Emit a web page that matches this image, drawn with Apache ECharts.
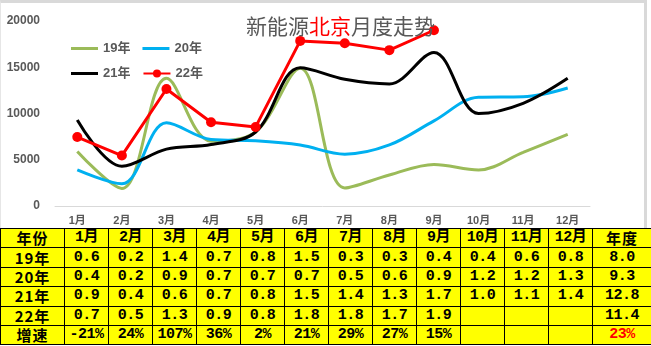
<!DOCTYPE html>
<html><head><meta charset="utf-8">
<script src="https://cdn.jsdelivr.net/npm/echarts@6/dist/echarts.min.js"></script>
<style>
html,body{margin:0;padding:0;background:#fff;width:651px;height:346px;overflow:hidden;}
#frame{position:absolute;left:0;top:0;width:643px;height:225px;border-top:3px solid #d9d9d9;border-right:3px solid #d9d9d9;border-left:1px solid #e6e6e6;}
#chart{position:absolute;left:0;top:0;width:651px;height:228px;}
table{position:absolute;left:0;top:228px;border-collapse:collapse;table-layout:fixed;width:651px;background:#ffff00;}
td{border:1px solid #000;padding:0;text-align:center;font-weight:bold;font-size:15px;height:18.4px;line-height:18px;font-family:'Liberation Mono','Noto Sans CJK SC',monospace;color:#000;overflow:hidden;white-space:nowrap;letter-spacing:-0.5px;}
td.cjk{font-family:'Noto Sans CJK SC',sans-serif;letter-spacing:1px;}
td.red{color:#ff0000;}
</style></head>
<body>
<div id="frame"></div>
<div id="chart"></div>
<table id="tbl"></table>
<script>
// ---- data ----
var months = ['1月','2月','3月','4月','5月','6月','7月','8月','9月','10月','11月','12月'];
var s19 = [5900, 1900, 13800, 7000, 8000, 14900, 1950, 3350, 4500, 3900, 5800, 7750];
var s20 = [3900, 2400, 9000, 7200, 7050, 6600, 5600, 6600, 9200, 11750, 11800, 12750];
var s21 = [9300, 4300, 6150, 6650, 8000, 14950, 13700, 13200, 16600, 10000, 11100, 13800];
var s22 = [7450, 5450, 12650, 9050, 8550, 17850, 17600, 16850, 19000];
var seriesNames = ['19年','20年','21年','22年'];
var yTicks = [0, 5000, 10000, 15000, 20000];

// table data (万辆)
var tblHeader = ['年份','1月','2月','3月','4月','5月','6月','7月','8月','9月','10月','11月','12月','年度'];
var t19 = ['0.6','0.2','1.4','0.7','0.8','1.5','0.3','0.3','0.4','0.4','0.6','0.8','8.0'];
var t20 = ['0.4','0.2','0.9','0.7','0.7','0.7','0.5','0.6','0.9','1.2','1.2','1.3','9.3'];
var t21 = ['0.9','0.4','0.6','0.7','0.8','1.5','1.4','1.3','1.7','1.0','1.1','1.4','12.8'];
var t22 = ['0.7','0.5','1.3','0.9','0.8','1.8','1.8','1.7','1.9','','','','11.4'];
var tGrowth = ['-21%','24%','107%','36%','2%','21%','29%','27%','15%','','','','23%'];

// ---- table ----
(function(){
  var tbl = document.getElementById('tbl');
  var widths = [64].concat(months.map(function(){return 44;})).concat([59]);
  var cg = '<colgroup>' + widths.map(function(w){return '<col style="width:'+w+'px">';}).join('') + '</colgroup>';
  function row(label, vals, isHeader, lastRed){
    var h = '<tr><td class="cjk">'+label+'</td>';
    vals.forEach(function(v, i){
      var cls = [];
      if (isHeader && (i === vals.length-1)) cls.push('cjk');
      if (lastRed && i === vals.length-1) cls.push('red');
      h += '<td class="'+cls.join(' ')+'">'+v+'</td>';
    });
    return h + '</tr>';
  }
  var html = cg;
  html += row(tblHeader[0], tblHeader.slice(1), true, false);
  html += row(seriesNames[0], t19);
  html += row(seriesNames[1], t20);
  html += row(seriesNames[2], t21);
  html += row(seriesNames[3], t22);
  html += row('增速', tGrowth, false, true);
  tbl.innerHTML = html;
})();

// ---- chart ----
var chart = echarts.init(document.getElementById('chart'), null, {renderer:'canvas'});
var legendText = {fontSize:13, fontWeight:'bold', color:'#595959', fontFamily:'Liberation Sans, Noto Sans CJK SC'};
var colors = ['#9bbb59','#00b0f0','#000000','#ff0000'];
var lineIcon = 'path://M0,0M27,10M0,3.5L27,3.5L27,6.5L0,6.5Z';
chart.setOption({
  backgroundColor: 'transparent',
  animation: false,
  title: {
    text: '{a|新能源}{b|北京}{a|月度走势}',
    left: 241, top: 11,
    textStyle: {
      fontWeight: 'normal',
      rich: {
        a: {fontSize:21, fontWeight:'normal', color:'#595959', fontFamily:'Noto Sans CJK SC'},
        b: {fontSize:21, fontWeight:'normal', color:'#ff0000', fontFamily:'Noto Sans CJK SC'}
      }
    }
  },
  legend: [
    {data:[{name:seriesNames[0], icon:lineIcon}, {name:seriesNames[1], icon:lineIcon}], left:66, top:37, itemWidth:27, itemHeight:10, itemGap:12, textStyle:legendText},
    {data:[{name:seriesNames[2], icon:lineIcon}, {name:seriesNames[3]}], left:66, top:62, itemWidth:27, itemHeight:10, itemGap:12, textStyle:legendText}
  ],
  grid: {left:55, right:61, top:21, bottom:22, containLabel:false},
  xAxis: {
    type:'category', data: months, boundaryGap:true,
    axisLine:{lineStyle:{color:'#d9d9d9', width:1}},
    axisTick:{show:false},
    axisLabel:{color:'#595959', fontSize:11, fontWeight:'bold', margin:9, fontFamily:'Liberation Sans, Noto Sans CJK SC'}
  },
  yAxis: {
    type:'value', min: yTicks[0], max: yTicks[yTicks.length-1], interval: yTicks[1]-yTicks[0],
    axisLine:{show:false}, axisTick:{show:false}, splitLine:{show:false},
    axisLabel:{color:'#595959', fontSize:12, fontWeight:'bold', margin:15, fontFamily:'Liberation Sans', formatter: function(v){ return String(v); }}
  },
  series: [
    {name:seriesNames[0], type:'line', data:s19, smooth:0.35, symbol:'none', lineStyle:{width:3, color:colors[0]}, itemStyle:{color:colors[0]}},
    {name:seriesNames[1], type:'line', data:s20, smooth:0.35, symbol:'none', lineStyle:{width:3, color:colors[1]}, itemStyle:{color:colors[1]}},
    {name:seriesNames[2], type:'line', data:s21, smooth:0.35, symbol:'none', lineStyle:{width:3, color:colors[2]}, itemStyle:{color:colors[2]}},
    {name:seriesNames[3], type:'line', data:s22, smooth:false, symbol:'circle', symbolSize:10, lineStyle:{width:3, color:colors[3]}, itemStyle:{color:colors[3]}}
  ]
});
</script>
</body></html>
